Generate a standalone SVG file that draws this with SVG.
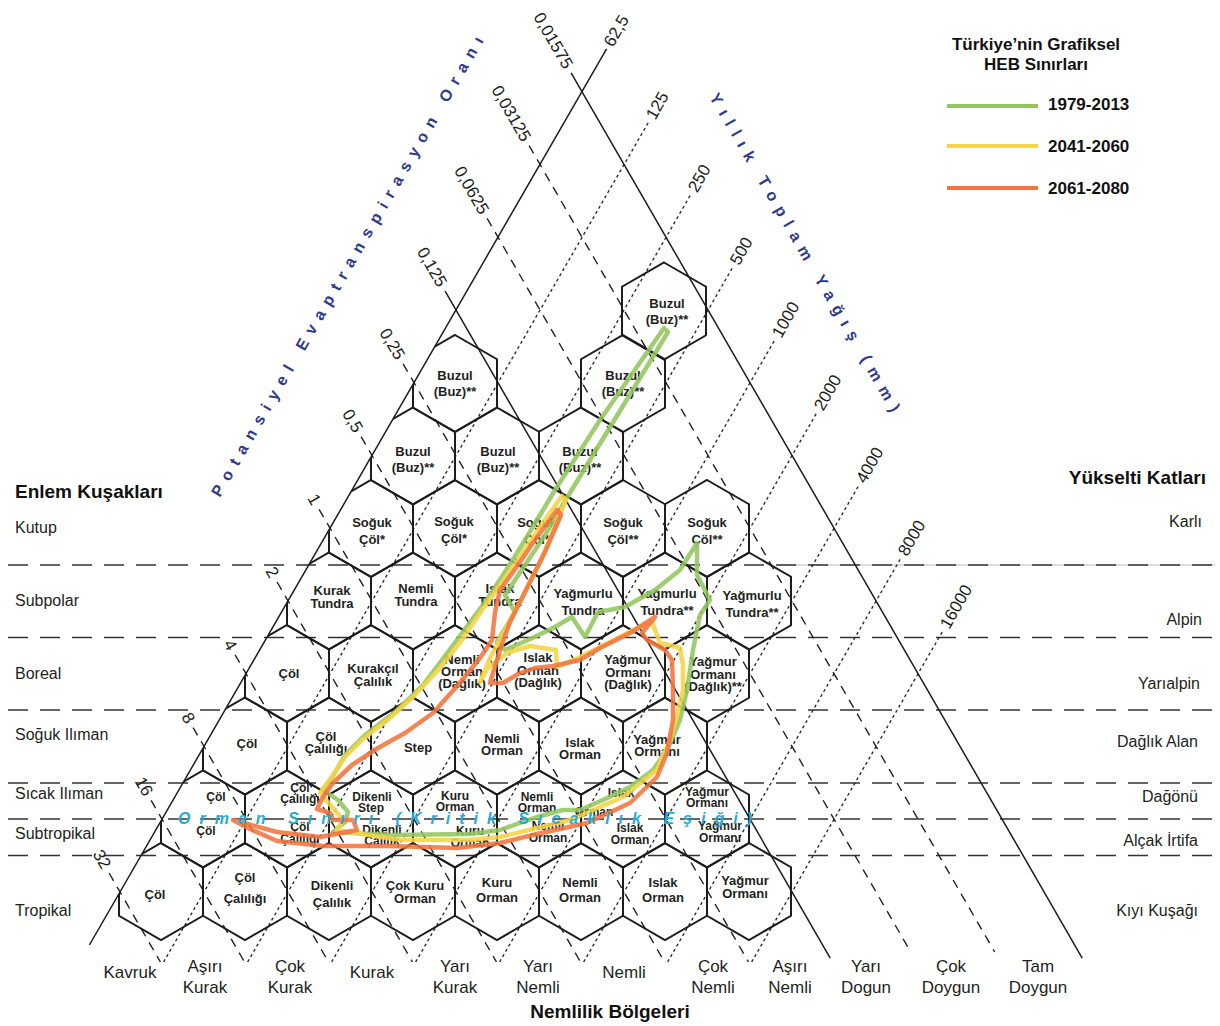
<svg xmlns="http://www.w3.org/2000/svg" xmlns:xlink="http://www.w3.org/1999/xlink" width="1220" height="1026" viewBox="0 0 1220 1026">
<defs>
<style>
.bg{fill:#fff}
.hx{fill:none;stroke:#1c1c1c;stroke-width:2;stroke-linejoin:miter}
.t{font-family:"Liberation Sans",Arial,sans-serif;font-weight:bold;font-size:13px;fill:#231f20;text-anchor:middle}
.s{font-size:12px}
.ax{font-family:"Liberation Sans",Arial,sans-serif;font-size:17px;fill:#231f20}
.sd{font-family:"Liberation Sans",Arial,sans-serif;font-size:16px;fill:#231f20}
.bt{font-family:"Liberation Sans",Arial,sans-serif;font-size:17px;fill:#231f20;text-anchor:middle}
.tt{font-family:"Liberation Sans",Arial,sans-serif;font-size:19px;font-weight:bold;fill:#111}
.lg{font-family:"Liberation Sans",Arial,sans-serif;font-size:17px;font-weight:bold;fill:#111}
.nv{font-family:"Liberation Sans",Arial,sans-serif;font-size:16px;font-weight:bold;fill:#2e3a8c}
.sl{stroke:#1c1c1c;stroke-width:1.5;fill:none}
.da{stroke:#222;stroke-width:1.4;stroke-dasharray:9 7;fill:none}
.dt{stroke:#222;stroke-width:1.3;stroke-dasharray:3 3;fill:none}
.hd{stroke:#333;stroke-width:1.6;stroke-dasharray:20 12;fill:none}
.hb{fill:none;stroke-width:4.5;stroke-linejoin:round;stroke-linecap:round;opacity:0.88}
.g{stroke:#93c65e}
.y{stroke:#f6d443}
.o{stroke:#f2743e}
.cy{font-family:"Liberation Sans",Arial,sans-serif;font-size:16px;font-weight:bold;font-style:italic;fill:#2aa9d6}
</style>
<polygon id="hx" points="0,-48.5 42,-24.25 42,24.25 0,48.5 -42,24.25 -42,-24.25"/>
<clipPath id="tri"><polygon points="635,0 1220,0 1220,1026 42.7,1026"/></clipPath>
</defs>
<rect class="bg" width="1220" height="1026"/>

<g id="grid-lines">
<line x1="780" y1="565" x2="1215" y2="565" stroke="#bbb" stroke-width="1.2"/>
<line class="hd" x1="8" y1="565" x2="1212" y2="565"/>
<line class="hd" x1="8" y1="637.5" x2="1212" y2="637.5"/>
<line class="hd" x1="8" y1="710" x2="1212" y2="710"/>
<line class="hd" x1="8" y1="783" x2="1212" y2="783"/>
<line class="hd" x1="8" y1="819" x2="1212" y2="819"/>
<line class="hd" x1="8" y1="855.5" x2="1212" y2="855.5"/>
<line class="da" x1="109.1" y1="873" x2="160.4" y2="962"/>
<line class="da" x1="151.1" y1="800.3" x2="244.5" y2="962"/>
<line class="da" x1="193.1" y1="727.6" x2="328.5" y2="962"/>
<line class="da" x1="235.1" y1="654.8" x2="412.5" y2="962"/>
<line class="da" x1="277.1" y1="582" x2="496.5" y2="962"/>
<line class="da" x1="319.1" y1="509.3" x2="580.5" y2="962"/>
<line class="da" x1="361.1" y1="436.6" x2="664.5" y2="962"/>
<line class="da" x1="403.1" y1="363.8" x2="748.5" y2="962"/>
<line class="sl" x1="445.1" y1="291" x2="830.2" y2="958"/>
<line class="da" x1="487.1" y1="218.3" x2="910.7" y2="952"/>
<line class="da" x1="529.1" y1="145.6" x2="994.7" y2="952"/>
<line class="sl" x1="571.1" y1="72.8" x2="1082.2" y2="958"/>
<line class="sl" x1="606.6" y1="48.9" x2="89.4" y2="945"/>
<line class="dt" x1="163.6" y1="962" x2="648.8" y2="121.7"/>
<line class="dt" x1="247.6" y1="962" x2="690.8" y2="194.4"/>
<line class="dt" x1="331.6" y1="962" x2="732.8" y2="267.2"/>
<line class="dt" x1="415.6" y1="962" x2="774.8" y2="339.9"/>
<line class="dt" x1="499.6" y1="962" x2="816.8" y2="412.7"/>
<line class="dt" x1="583.6" y1="962" x2="858.8" y2="485.4"/>
<line class="dt" x1="667.6" y1="962" x2="900.8" y2="558.2"/>
<line class="dt" x1="751.6" y1="962" x2="942.8" y2="630.9"/>
</g>

<g id="axis-labels">
<text class="ax" text-anchor="end" transform="translate(107,869.5) rotate(60)" x="-2" dy="5">32</text>
<text class="ax" text-anchor="end" transform="translate(149,796.8) rotate(60)" x="-2" dy="5">16</text>
<text class="ax" text-anchor="end" transform="translate(191,724.1) rotate(60)" x="-2" dy="5">8</text>
<text class="ax" text-anchor="end" transform="translate(233,651.3) rotate(60)" x="-2" dy="5">4</text>
<text class="ax" text-anchor="end" transform="translate(275,578.5) rotate(60)" x="-2" dy="5">2</text>
<text class="ax" text-anchor="end" transform="translate(317,505.8) rotate(60)" x="-2" dy="5">1</text>
<text class="ax" text-anchor="end" transform="translate(359,433.1) rotate(60)" x="-2" dy="5">0,5</text>
<text class="ax" text-anchor="end" transform="translate(401,360.3) rotate(60)" x="-2" dy="5">0,25</text>
<text class="ax" text-anchor="end" transform="translate(443,287.5) rotate(60)" x="-2" dy="5">0,125</text>
<text class="ax" text-anchor="end" transform="translate(485,214.8) rotate(60)" x="-2" dy="5">0,0625</text>
<text class="ax" text-anchor="end" transform="translate(527,142.1) rotate(60)" x="-2" dy="5">0,03125</text>
<text class="ax" text-anchor="end" transform="translate(569,69.3) rotate(60)" x="-2" dy="5">0,01575</text>
<text class="ax" transform="translate(606.6,48.9) rotate(-60)" x="4" dy="5">62,5</text>
<text class="ax" transform="translate(648.8,121.7) rotate(-60)" x="4" dy="5">125</text>
<text class="ax" transform="translate(690.8,194.4) rotate(-60)" x="4" dy="5">250</text>
<text class="ax" transform="translate(732.8,267.2) rotate(-60)" x="4" dy="5">500</text>
<text class="ax" transform="translate(774.8,339.9) rotate(-60)" x="4" dy="5">1000</text>
<text class="ax" transform="translate(816.8,412.7) rotate(-60)" x="4" dy="5">2000</text>
<text class="ax" transform="translate(858.8,485.4) rotate(-60)" x="4" dy="5">4000</text>
<text class="ax" transform="translate(900.8,558.2) rotate(-60)" x="4" dy="5">8000</text>
<text class="ax" transform="translate(942.8,630.9) rotate(-60)" x="4" dy="5">16000</text>
<text class="nv" transform="translate(220,498) rotate(-60)" textLength="528" lengthAdjust="spacing">Potansiyel Evaptranspirasyon Oranı</text>
<text class="nv" transform="translate(709,97) rotate(60)" textLength="365" lengthAdjust="spacing">Yıllık Toplam Yağış (mm)</text>
</g>

<g id="zones" clip-path="url(#tri)">
<g id="z1"><use href="#hx" class="hx" x="664" y="311"/><text class="t" x="667" y="308">Buzul</text><text class="t" x="667" y="324">(Buz)**</text></g>
<g id="z2a"><use href="#hx" class="hx" x="455" y="383.5"/><text class="t" x="455" y="380">Buzul</text><text class="t" x="455" y="396">(Buz)**</text></g>
<g id="z2b"><use href="#hx" class="hx" x="623" y="383.5"/><text class="t" x="623" y="380">Buzul</text><text class="t" x="623" y="396">(Buz)**</text></g>
<g id="z3a"><use href="#hx" class="hx" x="413" y="456"/><text class="t" x="413" y="456">Buzul</text><text class="t" x="413" y="472">(Buz)**</text></g>
<g id="z3b"><use href="#hx" class="hx" x="497" y="456"/><text class="t" x="498" y="456">Buzul</text><text class="t" x="498" y="472">(Buz)**</text></g>
<g id="z3c"><use href="#hx" class="hx" x="581" y="456"/><text class="t" x="580" y="456">Buzul</text><text class="t" x="580" y="472">(Buz)**</text></g>
<g id="z4a"><use href="#hx" class="hx" x="371" y="528.5"/><text class="t" x="372" y="527">Soğuk</text><text class="t" x="372" y="544">Çöl*</text></g>
<g id="z4b"><use href="#hx" class="hx" x="455" y="528.5"/><text class="t" x="454" y="526">Soğuk</text><text class="t" x="454" y="543">Çöl*</text></g>
<g id="z4c"><use href="#hx" class="hx" x="539" y="528.5"/><text class="t" x="537" y="527">Soğuk</text><text class="t" x="537" y="544">Çöl*</text></g>
<g id="z4d"><use href="#hx" class="hx" x="623" y="528.5"/><text class="t" x="623" y="527">Soğuk</text><text class="t" x="623" y="544">Çöl**</text></g>
<g id="z4e"><use href="#hx" class="hx" x="707" y="528.5"/><text class="t" x="707" y="527">Soğuk</text><text class="t" x="707" y="544">Çöl**</text></g>
<g id="z5a"><use href="#hx" class="hx" x="329" y="601"/><text class="t" x="332" y="595">Kurak</text><text class="t" x="332" y="608">Tundra</text></g>
<g id="z5b"><use href="#hx" class="hx" x="413" y="601"/><text class="t" x="416" y="593">Nemli</text><text class="t" x="416" y="606">Tundra</text></g>
<g id="z5c"><use href="#hx" class="hx" x="497" y="601"/><text class="t" x="500" y="593">Islak</text><text class="t" x="500" y="606">Tundra</text></g>
<g id="z5d"><use href="#hx" class="hx" x="581" y="601"/><text class="t" x="583" y="598">Yağmurlu</text><text class="t" x="583" y="615">Tundra</text></g>
<g id="z5e"><use href="#hx" class="hx" x="665" y="601"/><text class="t" x="667" y="598">Yağmurlu</text><text class="t" x="667" y="615">Tundra**</text></g>
<g id="z5f"><use href="#hx" class="hx" x="749" y="601"/><text class="t" x="752" y="600">Yağmurlu</text><text class="t" x="752" y="617">Tundra**</text></g>
<g id="z6a"><use href="#hx" class="hx" x="287" y="673.5"/><text class="t" x="289" y="678">Çöl</text></g>
<g id="z6b"><use href="#hx" class="hx" x="371" y="673.5"/><text class="t" x="373" y="673">Kurakçıl</text><text class="t" x="373" y="686">Çalılık</text></g>
<g id="z6c"><use href="#hx" class="hx" x="455" y="673.5"/><text class="t" x="462" y="664">Nemli</text><text class="t" x="462" y="676">Orman</text><text class="t" x="462" y="688">(Dağlık)</text></g>
<g id="z6d"><use href="#hx" class="hx" x="539" y="673.5"/><text class="t" x="538" y="662">Islak</text><text class="t" x="538" y="675">Orman</text><text class="t" x="538" y="687">(Dağlık)</text></g>
<g id="z6e"><use href="#hx" class="hx" x="623" y="673.5"/><text class="t" x="628" y="664">Yağmur</text><text class="t" x="628" y="677">Ormanı</text><text class="t" x="628" y="689">(Dağlık)</text></g>
<g id="z6f"><use href="#hx" class="hx" x="707" y="673.5"/><text class="t" x="713" y="666">Yağmur</text><text class="t" x="713" y="679">Ormanı</text><text class="t" x="713" y="691">(Dağlık)**</text></g>
<g id="z7a"><use href="#hx" class="hx" x="245" y="746"/><text class="t" x="247" y="748">Çöl</text></g>
<g id="z7b"><use href="#hx" class="hx" x="329" y="746"/><text class="t" x="326" y="741">Çöl</text><text class="t" x="326" y="753">Çalılığı</text></g>
<g id="z7c"><use href="#hx" class="hx" x="413" y="746"/><text class="t" x="418" y="752">Step</text></g>
<g id="z7d"><use href="#hx" class="hx" x="497" y="746"/><text class="t" x="502" y="743">Nemli</text><text class="t" x="502" y="755">Orman</text></g>
<g id="z7e"><use href="#hx" class="hx" x="581" y="746"/><text class="t" x="580" y="747">Islak</text><text class="t" x="580" y="759">Orman</text></g>
<g id="z7f"><use href="#hx" class="hx" x="665" y="746"/><text class="t" x="657" y="744">Yağmur</text><text class="t" x="657" y="756">Ormanı</text></g>
<g id="z8a"><use href="#hx" class="hx" x="203" y="819"/><text class="t s" x="216" y="801">Çöl</text><text class="t s" x="206" y="835">Çöl</text></g>
<g id="z8b"><use href="#hx" class="hx" x="287" y="819"/><text class="t s" x="300" y="792">Çöl</text><text class="t s" x="300" y="803">Çalılığı</text><text class="t s" x="300" y="831">Çöl</text><text class="t s" x="300" y="843">Çalılığı</text></g>
<g id="z8c"><use href="#hx" class="hx" x="371" y="819"/><text class="t s" x="372" y="801">Dikenli</text><text class="t s" x="371" y="812">Step</text><text class="t s" x="382" y="834">Dikenli</text><text class="t s" x="382" y="845">Çalılık</text></g>
<g id="z8d"><use href="#hx" class="hx" x="455" y="819"/><text class="t s" x="455" y="800">Kuru</text><text class="t s" x="455" y="811">Orman</text><text class="t s" x="470" y="835">Kuru</text><text class="t s" x="470" y="847">Orman</text></g>
<g id="z8e"><use href="#hx" class="hx" x="539" y="819"/><text class="t s" x="537" y="801">Nemli</text><text class="t s" x="537" y="812">Orman</text><text class="t s" x="548" y="830">Nemli</text><text class="t s" x="548" y="842">Orman</text></g>
<g id="z8f"><use href="#hx" class="hx" x="623" y="819"/><text class="t s" x="621" y="797">Islak</text><text class="t s" x="594" y="816">Orman</text><text class="t s" x="630" y="832">Islak</text><text class="t s" x="630" y="844">Orman</text></g>
<g id="z8g"><use href="#hx" class="hx" x="707" y="819"/><text class="t s" x="707" y="796">Yağmur</text><text class="t s" x="707" y="807">Ormanı</text><text class="t s" x="720" y="830">Yağmur</text><text class="t s" x="720" y="842">Ormanı</text></g>
<g id="z9a"><use href="#hx" class="hx" x="161" y="891.5"/><text class="t" x="155" y="899">Çöl</text></g>
<g id="z9b"><use href="#hx" class="hx" x="245" y="891.5"/><text class="t" x="245" y="882">Çöl</text><text class="t" x="245" y="903">Çalılığı</text></g>
<g id="z9c"><use href="#hx" class="hx" x="329" y="891.5"/><text class="t" x="332" y="890">Dikenli</text><text class="t" x="332" y="907">Çalılık</text></g>
<g id="z9d"><use href="#hx" class="hx" x="413" y="891.5"/><text class="t" x="415" y="890">Çok Kuru</text><text class="t" x="415" y="903">Orman</text></g>
<g id="z9e"><use href="#hx" class="hx" x="497" y="891.5"/><text class="t" x="497" y="887">Kuru</text><text class="t" x="497" y="902">Orman</text></g>
<g id="z9f"><use href="#hx" class="hx" x="581" y="891.5"/><text class="t" x="580" y="887">Nemli</text><text class="t" x="580" y="902">Orman</text></g>
<g id="z9g"><use href="#hx" class="hx" x="665" y="891.5"/><text class="t" x="663" y="887">Islak</text><text class="t" x="663" y="902">Orman</text></g>
<g id="z9h"><use href="#hx" class="hx" x="749" y="891.5"/><text class="t" x="745" y="885">Yağmur</text><text class="t" x="745" y="898">Ormanı</text></g>
</g>

<g id="connectors">
<path class="hb g" d="M664,328 L600,420 L555,490 L540,515 L522,545 L505,572 L488,598 L468,625 L448,652 L423,685 L395,712 L365,735 L345,755 L333,776 L323,790 L338,800 L348,812 L345,822 L333,832 L390,835 L470,834 L500,830 L537,817 L563,810 L580,810 L603,800 L630,787 L653,770 L667,750 L680,720 L687,690 L693,650 L700,615 L710,600 L697,575 L697,543 L680,570 L655,590 L625,607 L598,612 L585,637 L572,617 L553,628 L528,640 L505,650 L497,642 L515,612 L505,595 L525,565 L545,535 L562,506 L668,332 Z"/>
<path class="hb y" d="M562,496 L540,527 L520,557 L500,585 L480,613 L462,640 L440,668 L415,695 L390,718 L362,740 L345,757 L333,775 L320,793 L333,808 L343,820 L337,830 L400,840 L470,840 L500,837 L570,820 L623,797 L657,770 L670,740 L677,715 L683,690 L683,665 L680,648 L660,643 L652,622 L637,628 L620,637 L580,657 L557,667 L556,650 L530,646 L507,653 L488,668 L480,682 L490,658 L505,630 L522,598 L540,562 L566,500 Z"/>
<path class="hb o" d="M557,510 L535,540 L518,565 L500,590 L495,612 L492,640 L480,658 L458,685 L433,713 L405,733 L378,748 L352,765 L333,783 L323,797 L317,809 L330,813 L333,820 L353,820 L357,830 L320,837 L277,832 L233,820 L250,829 L277,841 L323,846 L390,846 L457,848 L500,843 L537,834 L587,823 L630,803 L657,777 L667,753 L673,720 L673,690 L672,660 L665,650 L647,640 L642,633 L655,617 L632,632 L600,648 L580,660 L553,666 L535,668 L518,674 L503,683 L490,683 L500,650 L510,622 L525,592 L545,552 L561,515 Z"/>
</g>

<text class="cy" x="178" y="824" textLength="574" lengthAdjust="spacing">Orman Sınırı (Kritik Sıcaklık Eşiği)</text>

<g id="legend">
<text class="lg" x="1036" y="50" text-anchor="middle">Türkiye’nin Grafiksel</text>
<text class="lg" x="1036" y="70" text-anchor="middle">HEB Sınırları</text>
<line x1="947" y1="106" x2="1038" y2="106" stroke="#93c65e" stroke-width="4"/>
<line x1="947" y1="146" x2="1038" y2="146" stroke="#f6d443" stroke-width="4"/>
<line x1="947" y1="188" x2="1038" y2="188" stroke="#f2743e" stroke-width="4"/>
<text class="lg" x="1048" y="110">1979-2013</text>
<text class="lg" x="1048" y="152">2041-2060</text>
<text class="lg" x="1048" y="194">2061-2080</text>
</g>

<g id="latitude">
<text class="tt" x="15" y="498">Enlem Kuşakları</text>
<text class="sd" x="15" y="533">Kutup</text>
<text class="sd" x="15" y="606">Subpolar</text>
<text class="sd" x="15" y="679">Boreal</text>
<text class="sd" x="15" y="740">Soğuk Ilıman</text>
<text class="sd" x="15" y="799">Sıcak Ilıman</text>
<text class="sd" x="15" y="839">Subtropikal</text>
<text class="sd" x="15" y="916">Tropikal</text>
</g>

<g id="altitude">
<text class="tt" x="1206" y="484" text-anchor="end">Yükselti Katları</text>
<text class="sd" x="1202" y="527" text-anchor="end">Karlı</text>
<text class="sd" x="1202" y="625" text-anchor="end">Alpin</text>
<text class="sd" x="1200" y="689" text-anchor="end">Yarıalpin</text>
<text class="sd" x="1198" y="747" text-anchor="end">Dağlık Alan</text>
<text class="sd" x="1198" y="802" text-anchor="end">Dağönü</text>
<text class="sd" x="1198" y="846" text-anchor="end">Alçak İrtifa</text>
<text class="sd" x="1198" y="916" text-anchor="end">Kıyı Kuşağı</text>
</g>

<g id="humidity">
<text class="bt" x="130" y="978">Kavruk</text>
<text class="bt" x="205" y="972">Aşırı</text><text class="bt" x="205" y="993">Kurak</text>
<text class="bt" x="290" y="972">Çok</text><text class="bt" x="290" y="993">Kurak</text>
<text class="bt" x="372" y="978">Kurak</text>
<text class="bt" x="455" y="972">Yarı</text><text class="bt" x="455" y="993">Kurak</text>
<text class="bt" x="538" y="972">Yarı</text><text class="bt" x="538" y="993">Nemli</text>
<text class="bt" x="624" y="978">Nemli</text>
<text class="bt" x="713" y="972">Çok</text><text class="bt" x="713" y="993">Nemli</text>
<text class="bt" x="790" y="972">Aşırı</text><text class="bt" x="790" y="993">Nemli</text>
<text class="bt" x="866" y="972">Yarı</text><text class="bt" x="866" y="993">Dogun</text>
<text class="bt" x="951" y="972">Çok</text><text class="bt" x="951" y="993">Doygun</text>
<text class="bt" x="1038" y="972">Tam</text><text class="bt" x="1038" y="993">Doygun</text>
<text class="tt" x="610" y="1018" text-anchor="middle">Nemlilik Bölgeleri</text>
</g>
</svg>
